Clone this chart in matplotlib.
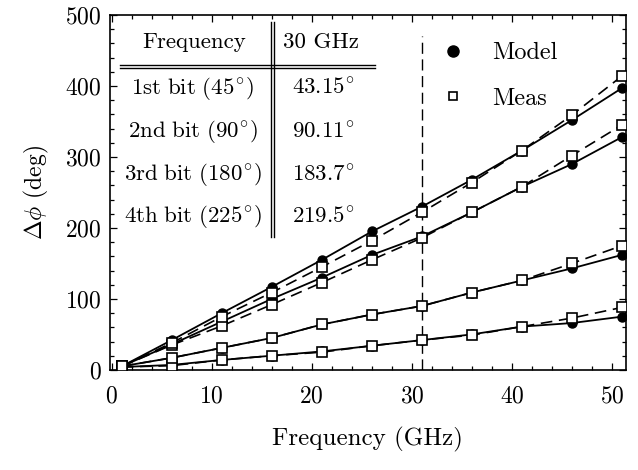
import matplotlib
matplotlib.use('Agg')
import matplotlib.pyplot as plt
from matplotlib.lines import Line2D
from matplotlib.ticker import MultipleLocator

plt.rcParams['font.family'] = ['cmr10', 'DejaVu Serif']
plt.rcParams['mathtext.fontset'] = 'cm'
plt.rcParams['axes.unicode_minus'] = False
plt.rcParams['axes.formatter.use_mathtext'] = True

# frequency points (GHz)
freq = [1, 6, 11, 16, 21, 26, 31, 36, 41, 46, 51]

# phase shift (deg), model and measurement, one per bit
model_1 = [4, 7, 14, 20, 26, 34, 42, 50, 61, 66, 75]
meas_1 = [4, 6, 14, 20, 25, 34, 42, 49, 61, 73, 88]
model_2 = [5, 17, 31, 45, 64, 78, 90, 109, 126, 143, 162]
meas_2 = [5, 17, 31, 45, 64, 78, 90, 109, 126, 150, 175]
model_3 = [5, 36, 68, 100, 130, 162, 188, 222, 258, 290, 328]
meas_3 = [5, 35, 62, 92, 123, 155, 186, 222, 258, 302, 345]
model_4 = [5, 42, 80, 117, 155, 195, 230, 268, 309, 352, 397]
meas_4 = [5, 38, 75, 109, 145, 182, 222, 264, 309, 359, 414]

models = [model_1, model_2, model_3, model_4]
meass = [meas_1, meas_2, meas_3, meas_4]

ref_freq = 31
tbl_head = ['Frequency', '30 GHz']
tbl_bits = [r'$\mathrm{1st\ bit\ (45^{\!\circ\!})}$',
            r'$\mathrm{2nd\ bit\ (90^{\!\circ\!})}$',
            r'$\mathrm{3rd\ bit\ (180^{\!\circ\!})}$',
            r'$\mathrm{4th\ bit\ (225^{\!\circ\!})}$']
tbl_vals = [r'$43.15^{\!\circ}$', r'$90.11^{\!\circ}$',
            r'$183.7^{\!\circ}$', r'$219.5^{\!\circ}$']

fig = plt.figure(figsize=(6.38, 4.70), dpi=100)
ax = fig.add_axes([0.172, 0.213, 0.809, 0.755])

for m, s in zip(models, meass):
    ax.plot(freq, m, color='black', lw=1.3, marker='o', ms=6.5,
            mfc='black', mec='black', zorder=3)
    ax.plot(freq, s, color='black', lw=1.2, ls=(0, (7, 4)), marker='s',
            ms=6.5, mfc='white', mec='black', mew=1.2, zorder=4)

ax.plot([ref_freq, ref_freq], [0, 470], color='black', lw=1.0,
        ls=(0, (8, 4)), zorder=2)

ax.set_xlim(-0.2, 51.4)
ax.set_ylim(0, 500)
ax.set_xticks([0, 10, 20, 30, 40, 50])
ax.set_yticks([0, 100, 200, 300, 400, 500])
ax.xaxis.set_minor_locator(MultipleLocator(2))
ax.yaxis.set_minor_locator(MultipleLocator(20))
ax.tick_params(which='both', direction='in', top=True, right=True,
               labelsize=17, width=0.9)
ax.tick_params(which='major', length=5)
ax.tick_params(which='minor', length=3)
ax.tick_params(axis='x', pad=11)
ax.tick_params(axis='y', pad=6)
for sp in ax.spines.values():
    sp.set_linewidth(1.2)

ax.set_xlabel('Frequency (GHz)', fontsize=18, labelpad=14)
ax.set_ylabel(r'$\Delta\phi$ (deg)', fontsize=17, labelpad=10)

# legend (markers only)
h1 = Line2D([], [], ls='none', marker='o', ms=8, mfc='black', mec='black')
h2 = Line2D([], [], ls='none', marker='s', ms=6, mfc='white', mec='black',
            mew=1.2)
ax.legend([h1, h2], ['Model', 'Meas'], loc='upper left',
          bbox_to_anchor=(0.595, 0.985), frameon=False, fontsize=17.5,
          labelspacing=0.95, handletextpad=1.0, handlelength=1.2)

# inset table
tr = ax.transAxes
ax.text(0.163, 0.924, tbl_head[0], transform=tr, ha='center', va='center',
        fontsize=16.5)
ax.text(0.335, 0.924, tbl_head[1], transform=tr, ha='left', va='center',
        fontsize=16.5)
row_y = [0.794, 0.673, 0.552, 0.431]
for y, b, v in zip(row_y, tbl_bits, tbl_vals):
    ax.text(0.161, y, b, transform=tr, ha='center', va='center', fontsize=16.5)
    ax.text(0.353, y, v, transform=tr, ha='left', va='center', fontsize=16.5)
for y in [0.858, 0.851]:
    ax.plot([0.019, 0.514], [y, y], transform=tr, color='black', lw=1.0)
for x in [0.312, 0.318]:
    ax.plot([x, x], [0.98, 0.375], transform=tr, color='black', lw=1.0)

fig.savefig('out.png', dpi=100)
